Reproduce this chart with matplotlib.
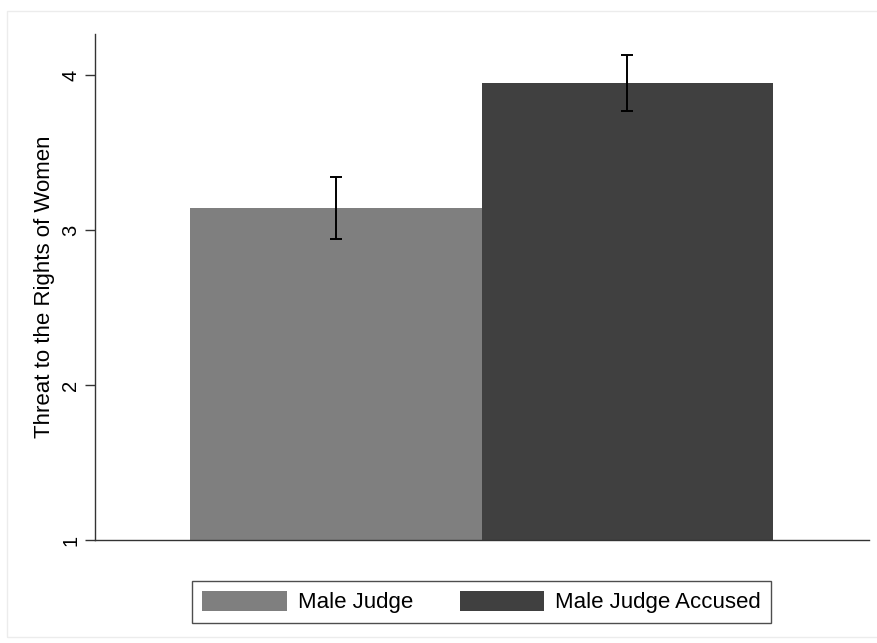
import numpy as np
import matplotlib
matplotlib.use("Agg")
import matplotlib.pyplot as plt
from matplotlib.patches import Rectangle, Patch

plt.rcParams['font.family'] = ['Liberation Sans', 'DejaVu Sans']

# group means with 95% confidence bounds
groups = ["Male Judge", "Male Judge Accused"]
means = [3.14, 3.95]
ci_low = [2.94, 3.77]
ci_high = [3.34, 4.13]
bar_colors = ["#7f7f7f", "#404040"]
yticks = [1, 2, 3, 4]

fig = plt.figure(figsize=(8.78, 6.43), dpi=100)
fig.patch.set_facecolor("white")

# faint frame round the graph region
fig.add_artist(Rectangle((7 / 878, 6 / 643), 0.995, 626 / 643,
                         transform=fig.transFigure, fill=False,
                         edgecolor="#ececec", linewidth=1))

ax = fig.add_axes([95 / 878, 1 - 540 / 643, 774 / 878, 506 / 643])

x = np.arange(len(groups))
means = np.array(means)
ax.bar(x, means, width=1.0, color=bar_colors, edgecolor="none", zorder=2)

err = np.vstack([means - np.array(ci_low), np.array(ci_high) - means])
ax.errorbar(x, means, yerr=err, fmt="none", ecolor="black",
            elinewidth=1.4, capsize=4.5, capthick=1.4, zorder=3)

ax.set_xlim(-0.826, 1.829)
ax.set_ylim(1, 4.265)

for s in ["top", "right"]:
    ax.spines[s].set_visible(False)
for s in ["left", "bottom"]:
    ax.spines[s].set_color("#333333")
    ax.spines[s].set_linewidth(1.0)

ax.set_xticks([])
ax.set_yticks(yticks)
ax.set_yticklabels([str(t) for t in yticks], rotation=90, va="center", fontsize=14.5)
ax.tick_params(axis="y", length=7, width=1, color="#333333", pad=3.5)

ax.set_ylabel("Threat to the Rights of Women", fontsize=16)
ax.yaxis.set_label_coords(-0.052, 0.5)

handles = [Patch(facecolor=c, edgecolor="none") for c in bar_colors]
leg = fig.legend(handles, groups, loc="center",
                 bbox_to_anchor=(481.5 / 878, 1 - 602 / 643),
                 ncol=2, fontsize=16, frameon=True, fancybox=False,
                 borderaxespad=0, borderpad=0.45, handlelength=3.8, handleheight=1.0,
                 handletextpad=0.5, columnspacing=2.1)
leg.get_frame().set_edgecolor("#222222")
leg.get_frame().set_linewidth(1.0)

fig.savefig("out.png", dpi=100, facecolor="white")
